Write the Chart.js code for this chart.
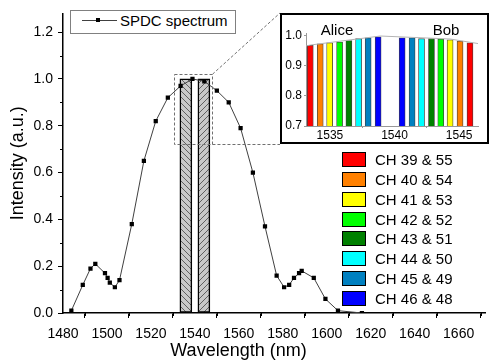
<!DOCTYPE html>
<html>
<head>
<meta charset="utf-8">
<script src="https://cdn.jsdelivr.net/npm/chart.js@4.4.0/dist/chart.umd.min.js"></script>
<style>
    body { margin: 0; background: #fff; font-family: "Liberation Sans", Arial, sans-serif; color: #000; }
    #wrap { position: relative; width: 489px; height: 363px; overflow: hidden; }
    #mainChart { position: absolute; left: 0; top: 0; }
    #inset { position: absolute; left: 280px; top: 13px; width: 209px; height: 131px; border: 2px solid #000; box-sizing: border-box; background: #fff; }
    #insetChart { position: absolute; left: 0; top: 0; }
    .lbl { position: absolute; font-size: 15px; transform: translate(-50%, -50%); white-space: nowrap; }
    #xTitle { position: absolute; left: 0; width: 477px; top: 340px; text-align: center; font-size: 18px; line-height: 20px; }
    #spdcLegend { position: absolute; left: 70px; top: 10px; width: 166px; height: 24px; border: 1px solid #808080; box-sizing: border-box; background: #fff; }
    #spdcLegend .ln { position: absolute; left: 11px; top: 9px; width: 35px; height: 1px; background: #404040; }
    #spdcLegend .pt { position: absolute; left: 25px; top: 7px; width: 4px; height: 4px; background: #000; }
    #spdcLegend .tx { position: absolute; left: 49px; top: 0; line-height: 20px; font-size: 15px; white-space: nowrap; }
    #chLegend { position: absolute; left: 342px; top: 150px; margin: 0; padding: 0; list-style: none; }
    #chLegend li { height: 19.75px; display: flex; align-items: center; font-size: 15px; white-space: nowrap; }
    #chLegend .sw { width: 24px; height: 15px; border: 1.5px solid #000; box-sizing: border-box; margin-right: 9px; }
</style>
</head>
<body>
<div id="wrap">
    <canvas id="mainChart" width="489" height="363"></canvas>
    <div id="spdcLegend"><span class="ln"></span><span class="pt"></span><span class="tx">SPDC spectrum</span></div>
    <div id="inset"><canvas id="insetChart" width="205" height="127"></canvas></div>
    <span class="lbl" style="left:337px; top:29px;">Alice</span>
    <span class="lbl" style="left:446px; top:29px;">Bob</span>
    <ul id="chLegend"></ul>
    <div id="xTitle">Wavelength (nm)</div>
</div>
<script>
// SPDC spectrum
const spectrumWl = [1483.8, 1489.0, 1492.5, 1494.7, 1499.1, 1500.3, 1501.3, 1503.6, 1505.7, 1511.3,
    1516.8, 1522.2, 1527.7, 1533.5, 1538.9, 1544.3, 1550.0, 1555.4, 1560.8, 1566.4,
    1571.9, 1577.2, 1580.6, 1582.9, 1585.1, 1587.4, 1588.6, 1594.1, 1599.4, 1605.1, 1616.0];
const spectrumInt = [0.01, 0.12, 0.19, 0.21, 0.17, 0.15, 0.13, 0.11, 0.14, 0.38,
    0.65, 0.82, 0.92, 0.97, 1.00, 0.99, 0.95, 0.90, 0.79, 0.60,
    0.37, 0.16, 0.11, 0.12, 0.15, 0.17, 0.18, 0.15, 0.06, 0.01, 0.00];

// Alice / Bob pass bands (hatched bars)
const bandCenters = [1535.9, 1544.1];
const bandHeights = [1.0, 1.0];

// Dashed zoom box
const zoomBoxWl = [1530.5, 1548.0];
const zoomBoxInt = [0.72, 1.02];

// Axis ticks
const xTicks = [1480, 1500, 1520, 1540, 1560, 1580, 1600, 1620, 1640, 1660];
const xMinorTicks = [1490, 1510, 1530, 1550, 1570, 1590, 1610, 1630, 1650, 1670];
const yTicks = [0, 0.2, 0.4, 0.6, 0.8, 1.0, 1.2];
const yMinorTicks = [0.1, 0.3, 0.5, 0.7, 0.9, 1.1];

// Inset: channels
const channelLabels = ['CH 39 & 55', 'CH 40 & 54', 'CH 41 & 53', 'CH 42 & 52', 'CH 43 & 51', 'CH 44 & 50', 'CH 45 & 49', 'CH 46 & 48'];
const channelColors = ['#ff0000', '#ff8000', '#ffff00', '#00ff00', '#008000', '#00ffff', '#0080c0', '#0000ff'];
const aliceWl = [1533.48, 1534.25, 1534.98, 1535.75, 1536.47, 1537.22, 1537.96, 1538.73];
const aliceInt = [0.969, 0.974, 0.977, 0.980, 0.985, 0.991, 0.994, 0.997];
const bobWl = [1540.59, 1541.36, 1542.09, 1542.86, 1543.58, 1544.30, 1545.07, 1545.84];
const bobInt = [0.994, 0.994, 0.991, 0.991, 0.990, 0.987, 0.983, 0.977];
const insetXTicks = [1535, 1540, 1545];
const insetYTicks = [0.7, 0.8, 0.9, 1.0];

Chart.defaults.font.family = '"Liberation Sans", Arial, sans-serif';
Chart.defaults.color = '#000';

// Hatch pattern for the pass bands
function makeHatch(forward) {
    const c = document.createElement('canvas');
    c.width = 6;
    c.height = 6;
    const g = c.getContext('2d');
    g.fillStyle = '#c8c8c8';
    g.fillRect(0, 0, 6, 6);
    g.strokeStyle = '#606060';
    g.lineWidth = 1;
    g.beginPath();
    if (forward) {
        g.moveTo(0, 6); g.lineTo(6, 0);
        g.moveTo(-1, 1); g.lineTo(1, -1);
        g.moveTo(5, 7); g.lineTo(7, 5);
    } else {
        g.moveTo(0, 0); g.lineTo(6, 6);
        g.moveTo(5, -1); g.lineTo(7, 1);
        g.moveTo(-1, 5); g.lineTo(1, 7);
    }
    g.stroke();
    return g.createPattern(c, 'repeat');
}

const toPoints = (xs, ys) => xs.map((x, i) => ({ x: x, y: ys[i] }));

// Minor ticks, zoom box and connector lines
const overlayPlugin = {
    id: 'overlay',
    afterDatasetsDraw(chart) {
        const { ctx, scales: { x, y } } = chart;
        ctx.save();
        ctx.strokeStyle = '#000';
        ctx.lineWidth = 1;
        xMinorTicks.forEach(v => {
            const px = Math.round(x.getPixelForValue(v)) + 0.5;
            ctx.beginPath();
            ctx.moveTo(px, y.bottom);
            ctx.lineTo(px, y.bottom + 3);
            ctx.stroke();
        });
        yMinorTicks.forEach(v => {
            const py = Math.round(y.getPixelForValue(v)) + 0.5;
            ctx.beginPath();
            ctx.moveTo(x.left, py);
            ctx.lineTo(x.left - 3, py);
            ctx.stroke();
        });

        const bx1 = x.getPixelForValue(zoomBoxWl[0]);
        const bx2 = x.getPixelForValue(zoomBoxWl[1]);
        const by1 = y.getPixelForValue(zoomBoxInt[1]);
        const by2 = y.getPixelForValue(zoomBoxInt[0]);
        const inset = document.getElementById('inset');
        const ix = inset.offsetLeft;
        const iy = inset.offsetTop;

        ctx.strokeStyle = '#707070';
        ctx.setLineDash([3, 2]);
        ctx.strokeRect(Math.round(bx1) + 0.5, Math.round(by1) + 0.5, Math.round(bx2 - bx1), Math.round(by2 - by1));
        ctx.beginPath();
        ctx.moveTo(bx2, by1);
        ctx.lineTo(ix, iy);
        ctx.moveTo(bx2, Math.round(by2) + 0.5);
        ctx.lineTo(ix, Math.round(by2) + 0.5);
        ctx.stroke();
        ctx.restore();
    }
};

const mainChart = new Chart(document.getElementById('mainChart').getContext('2d'), {
    type: 'line',
    data: {
        datasets: [{
            type: 'line',
            label: 'SPDC spectrum',
            data: toPoints(spectrumWl, spectrumInt),
            borderColor: '#404040',
            borderWidth: 1,
            pointStyle: 'rect',
            pointRadius: 3,
            pointBorderWidth: 0,
            pointBackgroundColor: '#000',
            tension: 0,
            order: 0
        }, {
            type: 'bar',
            label: 'Pass bands',
            data: toPoints(bandCenters, bandHeights),
            backgroundColor: [makeHatch(false), makeHatch(true)],
            borderColor: '#000',
            borderWidth: 1.5,
            borderSkipped: false,
            barThickness: 12,
            order: 1
        }]
    },
    options: {
        responsive: false,
        devicePixelRatio: 1,
        animation: false,
        layout: { padding: { top: 5, right: 0, left: 0, bottom: 0 } },
        plugins: {
            legend: { display: false },
            tooltip: { enabled: false }
        },
        scales: {
            x: {
                type: 'linear',
                min: 1480,
                max: 1672,
                offset: false,
                afterBuildTicks: (scale) => { scale.ticks = xTicks.map(v => ({ value: v })); },
                afterFit: (scale) => { scale.height = 50; },
                grid: { drawOnChartArea: false, tickLength: 5, color: '#000' },
                border: { color: '#000', width: 1.5 },
                ticks: { font: { size: 14 }, padding: 8, maxRotation: 0, callback: (v) => String(v) }
            },
            y: {
                min: 0,
                max: 1.28,
                afterBuildTicks: (scale) => { scale.ticks = yTicks.map(v => ({ value: v })); },
                afterFit: (scale) => { scale.width = 63; },
                grid: { drawOnChartArea: false, tickLength: 5, color: '#000' },
                border: { color: '#000', width: 1.5 },
                ticks: { font: { size: 14 }, padding: 5, callback: (v) => Number(v).toFixed(1) },
                title: { display: true, text: 'Intensity (a.u.)', font: { size: 18 }, padding: { top: 7, bottom: 0 } }
            }
        }
    },
    plugins: [overlayPlugin]
});

// Inset chart
const insetChart = new Chart(document.getElementById('insetChart').getContext('2d'), {
    type: 'line',
    data: {
        datasets: [{
            type: 'line',
            label: 'SPDC spectrum',
            data: toPoints(spectrumWl, spectrumInt),
            borderColor: '#b4b4b4',
            borderWidth: 1,
            pointRadius: 0,
            tension: 0,
            order: 0
        }, {
            type: 'bar',
            label: 'Channels',
            data: toPoints(aliceWl, aliceInt).concat(toPoints(bobWl, bobInt)),
            backgroundColor: channelColors.concat([...channelColors].reverse()),
            borderColor: '#404040',
            borderWidth: 0.8,
            borderSkipped: 'start',
            barThickness: 6,
            order: 1
        }]
    },
    options: {
        responsive: false,
        devicePixelRatio: 1,
        animation: false,
        layout: { padding: { top: 18, right: 9, left: 0, bottom: 0 } },
        plugins: {
            legend: { display: false },
            tooltip: { enabled: false }
        },
        scales: {
            x: {
                type: 'linear',
                min: 1533.15,
                max: 1546.46,
                offset: false,
                afterBuildTicks: (scale) => { scale.ticks = insetXTicks.map(v => ({ value: v })); },
                afterFit: (scale) => { scale.height = 16; },
                grid: { drawOnChartArea: false, tickLength: 2, color: '#999' },
                border: { color: '#999', width: 1 },
                ticks: { font: { size: 12 }, padding: 0, maxRotation: 0, callback: (v) => String(v) }
            },
            y: {
                min: 0.7,
                max: 1.01,
                afterBuildTicks: (scale) => { scale.ticks = insetYTicks.map(v => ({ value: v })); },
                afterFit: (scale) => { scale.width = 24; },
                grid: { drawOnChartArea: false, tickLength: 2, color: '#999' },
                border: { color: '#999', width: 1 },
                ticks: { font: { size: 12 }, padding: 2, callback: (v) => Number(v).toFixed(1) }
            }
        }
    }
});

// Channel legend
const chLegend = document.getElementById('chLegend');
channelLabels.forEach((label, i) => {
    const li = document.createElement('li');
    li.innerHTML = `<span class="sw" style="background:${channelColors[i]}"></span><span>${label}</span>`;
    chLegend.appendChild(li);
});
</script>
</body>
</html>
